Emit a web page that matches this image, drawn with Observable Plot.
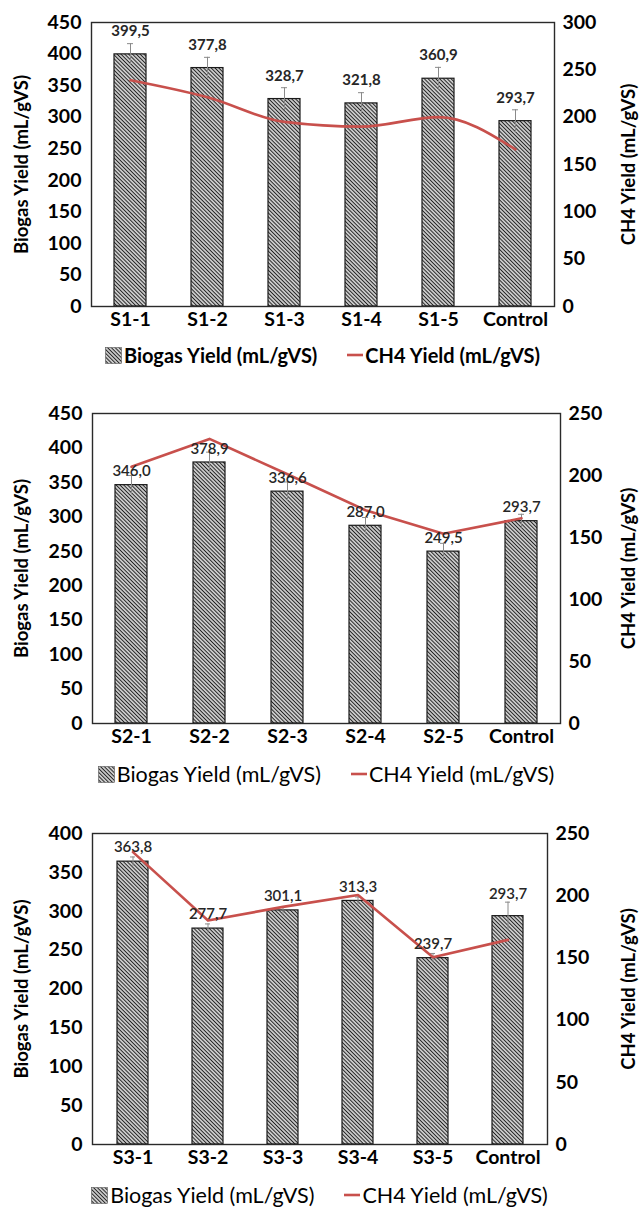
<!DOCTYPE html>
<html>
<head>
<meta charset="utf-8">
<script src="https://cdn.jsdelivr.net/npm/d3@7"></script>
<script src="https://cdn.jsdelivr.net/npm/@observablehq/plot@0.6"></script>
<style>
  html, body { margin: 0; padding: 0; background: #fff; }
  body { width: 643px; height: 1207px; position: relative; overflow: hidden; font-family: Lato, "Open Sans", sans-serif; }
  .blk { position: absolute; left: 0; }
  .legend { position: absolute; display: flex; align-items: center; justify-content: center; height: 26px; font-size: 21px; color: #000; white-space: nowrap; }
  .legend .sw { display: inline-block; margin-right: 2px; }
  .legend .gap { display: inline-block; width: 30px; }
</style>
</head>
<body>
<svg width="0" height="0" style="position:absolute">
  <defs>
    <pattern id="hatch" width="2.7" height="2.7" patternUnits="userSpaceOnUse" patternTransform="rotate(-45)">
      <rect width="2.7" height="2.7" fill="#fff"></rect>
      <line x1="1.35" y1="0" x2="1.35" y2="2.7" stroke="#222" stroke-width="1.35"></line>
    </pattern>
  </defs>
</svg>
<script>
// ---------- data ----------
const cats1 = ["S1-1", "S1-2", "S1-3", "S1-4", "S1-5", "Control"];
const biogas1 = [399.5, 377.8, 328.7, 321.8, 360.9, 293.7];
const biogasErr1 = [17, 17, 18, 17, 18, 18];
const ch4_1 = [239, 221, 195, 190, 200, 166];

const cats2 = ["S2-1", "S2-2", "S2-3", "S2-4", "S2-5", "Control"];
const biogas2 = [346.0, 378.9, 336.6, 287.0, 249.5, 293.7];
const biogasErr2 = [14, 15, 14, 12, 12, 10];
const ch4_2 = [207, 229.5, 201, 172, 153, 165.5];

const cats3 = ["S3-1", "S3-2", "S3-3", "S3-4", "S3-5", "Control"];
const biogas3 = [363.8, 277.7, 301.1, 313.3, 239.7, 293.7];
const biogasErr3 = [6, 6, 5, 5, 6, 18];
const ch4_3 = [235, 180, 191, 200.5, 150.5, 164.5];

const leftTicks12 = [0, 50, 100, 150, 200, 250, 300, 350, 400, 450];
const leftTicks3 = [0, 50, 100, 150, 200, 250, 300, 350, 400];
const rightTicks1 = [0, 50, 100, 150, 200, 250, 300];
const rightTicks23 = [0, 50, 100, 150, 200, 250];

const leftTitle = "Biogas Yield (mL/gVS)";
const rightTitle = "CH4 Yield (mL/gVS)";
const legendBiogas = "Biogas Yield (mL/gVS)";
const legendCH4 = "CH4 Yield (mL/gVS)";

const RED = "#c8504c";
const fmt = v => v.toFixed(1).replace(".", ",");

const panels = [
  {cats: cats1, bio: biogas1, err: biogasErr1, ch4: ch4_1, leftTicks: leftTicks12, rightTicks: rightTicks1,
   blockTop: 0, frameTop: 22, frameBottom: 306, left: 91, right: 554, legendCenter: 355,
   curve: "monotone-x", legendWeight: "bold", legendSize: 20, labelWeight: "bold", barGap: 0, errGap: 12},
  {cats: cats2, bio: biogas2, err: biogasErr2, ch4: ch4_2, leftTicks: leftTicks12, rightTicks: rightTicks23,
   blockTop: 367, frameTop: 413, frameBottom: 723, left: 92, right: 560, legendCenter: 774,
   curve: "linear", legendWeight: "normal", legendSize: 21.5, labelWeight: "600", barGap: 13.5, errGap: 0},
  {cats: cats3, bio: biogas3, err: biogasErr3, ch4: ch4_3, leftTicks: leftTicks3, rightTicks: rightTicks23,
   blockTop: 786, frameTop: 833, frameBottom: 1144, left: 92, right: 547, legendCenter: 1195,
   curve: "linear", legendWeight: "normal", legendSize: 21.5, labelWeight: "600", barGap: 14, errGap: 8}
];

const W = 643;
const marginBottom = 36;

panels.forEach(p => {
  const leftMax = p.leftTicks[p.leftTicks.length - 1];
  const rightMax = p.rightTicks[p.rightTicks.length - 1];
  const k = leftMax / rightMax;
  const plotH = p.frameBottom - p.frameTop;
  const ppu = plotH / leftMax;
  const data = p.cats.map((c, i) => ({cat: c, bio: p.bio[i], err: p.err[i], ch4: p.ch4[i]}));
  const labelY = d => d.bio + Math.max(p.barGap, d.err * ppu + p.errGap) / ppu;
  const height = p.frameBottom - p.blockTop + marginBottom;

  const chart = Plot.plot({
    width: W,
    height,
    marginTop: p.frameTop - p.blockTop,
    marginBottom,
    marginLeft: p.left,
    marginRight: W - p.right,
    style: {fontFamily: "Lato, 'Open Sans', sans-serif", fontSize: "19px", color: "#000", background: "#fff", overflow: "visible"},
    x: {type: "band", domain: p.cats, paddingInner: 0.59, paddingOuter: 0.295, axis: null},
    y: {domain: [0, leftMax], axis: null},
    marks: [
      Plot.barY(data, {x: "cat", y: "bio", fill: "url(#hatch)", stroke: "#1a1a1a", strokeWidth: 1.2}),
      Plot.ruleX(data, {x: "cat", y1: d => d.bio - d.err, y2: d => d.bio + d.err, stroke: "#8a8a8a", strokeWidth: 1}),
      Plot.tickY(data, {x: "cat", y: d => d.bio + d.err, stroke: "#8a8a8a", strokeWidth: 1, insetLeft: 13, insetRight: 13}),
      Plot.line(data, {x: "cat", y: d => d.ch4 * k, stroke: RED, strokeWidth: 2.6, curve: p.curve}),
      Plot.text(data, {x: "cat", y: labelY, text: d => fmt(d.bio), fontSize: 15, fontWeight: p.labelWeight, fill: "#262626", lineAnchor: "middle"}),
      Plot.frame({stroke: "#2a2a2a", strokeWidth: 1.4}),
      Plot.axisY(p.leftTicks, {anchor: "left", tickSize: 0, tickPadding: 10, fontSize: 19.5, fontWeight: "bold", label: null}),
      Plot.axisY(p.rightTicks.map(v => v * k), {anchor: "right", tickSize: 0, tickPadding: 8, fontSize: 19.5, fontWeight: "bold", label: null, tickFormat: d => String(Math.round(d / k))}),
      Plot.axisX({anchor: "bottom", tickSize: 0, tickPadding: 6, fontSize: 19.5, fontWeight: "bold", label: null}),
      Plot.text([leftTitle], {text: d => d, frameAnchor: "left", dx: 22 - p.left, rotate: -90, fontSize: 18.5, fontWeight: "bold", textAnchor: "middle", lineAnchor: "middle", fill: "#000"}),
      Plot.text([rightTitle], {text: d => d, frameAnchor: "right", dx: 629 - p.right, rotate: -90, fontSize: 18.5, fontWeight: "bold", textAnchor: "middle", lineAnchor: "middle", fill: "#000"})
    ]
  });

  const blk = document.createElement("div");
  blk.className = "blk";
  blk.style.top = p.blockTop + "px";
  blk.appendChild(chart);
  document.body.appendChild(blk);

  const lg = document.createElement("div");
  lg.className = "legend";
  lg.style.top = (p.legendCenter - 13) + "px";
  lg.style.left = (p.left - 10) + "px";
  lg.style.width = (p.right - p.left + 20) + "px";
  lg.style.fontWeight = p.legendWeight;
  lg.style.fontSize = p.legendSize + "px";
  lg.innerHTML =
    `<svg class="sw" width="17" height="17"><rect x="0.5" y="0.5" width="16" height="16" fill="url(#hatch)" stroke="#555" stroke-width="0.6"></rect></svg>` +
    `<span>${legendBiogas}</span><span class="gap"></span>` +
    `<svg class="sw" width="16" height="16"><line x1="0" y1="8" x2="16" y2="8" stroke="${RED}" stroke-width="2.6"></line></svg>` +
    `<span>${legendCH4}</span>`;
  document.body.appendChild(lg);
});
</script>
</body>
</html>
